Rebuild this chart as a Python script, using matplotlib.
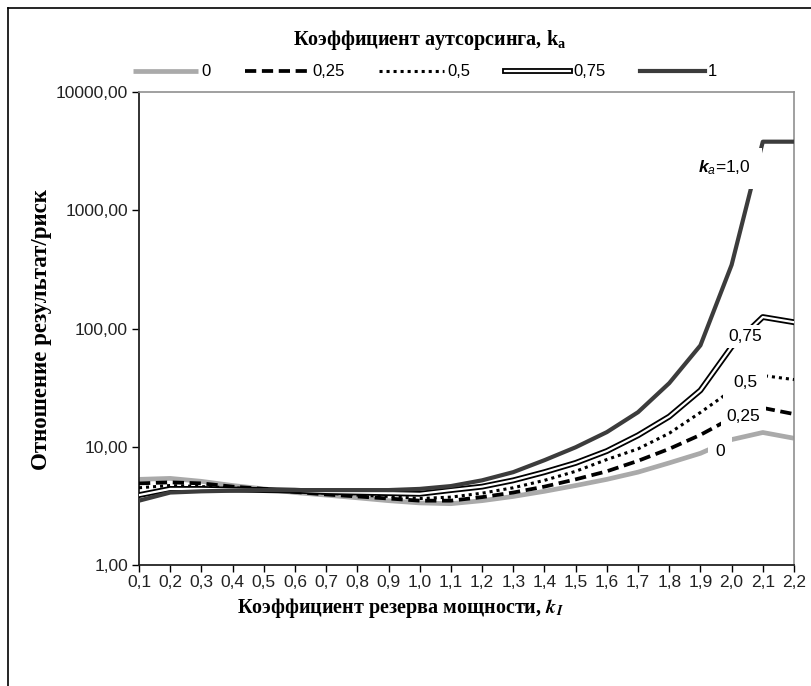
import matplotlib
matplotlib.use("Agg")
import matplotlib.pyplot as plt
from matplotlib.lines import Line2D
from matplotlib.ticker import FixedLocator, FuncFormatter, NullLocator

plt.rcParams["mathtext.fontset"] = "custom"
plt.rcParams["mathtext.rm"] = "Liberation Sans"
plt.rcParams["mathtext.it"] = "Liberation Sans:italic"
plt.rcParams["mathtext.bf"] = "Liberation Sans:bold"
plt.rcParams["mathtext.bfit"] = "Liberation Sans:bold:italic"

# ---- data ----
k_I = [0.1, 0.2, 0.3, 0.4, 0.5, 0.6, 0.7, 0.8, 0.9, 1.0, 1.1,
       1.2, 1.3, 1.4, 1.5, 1.6, 1.7, 1.8, 1.9, 2.0, 2.1, 2.2]
x_labels = ["0,1", "0,2", "0,3", "0,4", "0,5", "0,6", "0,7", "0,8", "0,9", "1,0", "1,1",
            "1,2", "1,3", "1,4", "1,5", "1,6", "1,7", "1,8", "1,9", "2,0", "2,1", "2,2"]
ka_0 = [5.3, 5.4, 5.1, 4.7, 4.4, 4.1, 3.9, 3.7, 3.5, 3.35, 3.3,
        3.5, 3.8, 4.2, 4.7, 5.3, 6.1, 7.3, 8.8, 11.5, 13.2, 11.8]
ka_025 = [4.9, 5.0, 4.9, 4.6, 4.4, 4.15, 3.95, 3.8, 3.65, 3.5, 3.5,
          3.75, 4.1, 4.6, 5.3, 6.2, 7.6, 9.6, 12.6, 17.5, 21.3, 18.9]
ka_05 = [4.5, 4.7, 4.6, 4.5, 4.35, 4.2, 4.05, 3.9, 3.8, 3.65, 3.75,
         4.05, 4.5, 5.2, 6.2, 7.8, 9.6, 13.0, 19.5, 30.0, 40.0, 37.0]
ka_075 = [3.9, 4.4, 4.4, 4.35, 4.3, 4.25, 4.15, 4.1, 4.05, 4.0, 4.3,
          4.6, 5.2, 6.1, 7.3, 9.2, 12.5, 18.0, 30.0, 70.0, 125.0, 113.0]
ka_1 = [3.5, 4.1, 4.2, 4.25, 4.3, 4.3, 4.3, 4.3, 4.3, 4.4, 4.65,
        5.2, 6.1, 7.7, 9.9, 13.3, 19.6, 34.5, 72.0, 345.0, 3800.0, 3800.0]
legend_labels = ["0", "0,25", "0,5", "0,75", "1"]
y_ticks = [1, 10, 100, 1000, 10000]

fig = plt.figure(figsize=(8.12, 6.86), dpi=100)
ax = fig.add_axes([139/812, 1-565/686, (794-139)/812, (565-92)/686])

serif = "Liberation Serif"
sans = "Liberation Sans"

l0, = ax.plot(k_I, ka_0, color="#aaaaaa", lw=3.4, solid_capstyle="butt", zorder=2)
l1, = ax.plot(k_I, ka_025, color="black", lw=2.7, linestyle=(0, (3, 1.5)), zorder=3)
l2, = ax.plot(k_I, ka_05, color="black", lw=2.2, linestyle=(0, (1, 1.3)), zorder=4)
l3a, = ax.plot(k_I, ka_075, color="black", lw=4.2, zorder=5)
l3b, = ax.plot(k_I, ka_075, color="white", lw=1.6, zorder=6)
l4, = ax.plot(k_I, ka_1, color="#3c3c3c", lw=3.0, zorder=7)

ax.set_yscale("log")
ax.set_ylim(1, 10000)
ax.set_xlim(0.1, 2.2)
ax.yaxis.set_major_locator(FixedLocator(y_ticks))
ax.yaxis.set_minor_locator(NullLocator())
ax.yaxis.set_major_formatter(FuncFormatter(lambda v, p: f"{v:.2f}".replace(".", ",")))
ax.set_xticks(k_I)
ax.set_xticklabels(x_labels)
ax.tick_params(axis="both", direction="out", length=5, width=1, labelsize=12.5,
               colors="black")
ax.tick_params(axis="x", pad=2)
ax.tick_params(axis="y", pad=3)
for lab in ax.get_xticklabels() + ax.get_yticklabels():
    lab.set_fontfamily(sans)
    lab.set_color("#222222")

for s in ["top", "right"]:
    ax.spines[s].set_color("#909090")
    ax.spines[s].set_linewidth(1.2)
for s in ["left", "bottom"]:
    ax.spines[s].set_color("#222222")
    ax.spines[s].set_linewidth(1.3)

# data labels
ax.text(1.978, 2270, r"$\mathbfit{k}_{\mathit{a}}$=1,0", fontsize=12.5, family=sans,
        ha="center", va="center", bbox=dict(facecolor="white", edgecolor="none", pad=8), zorder=10)
ax.text(2.043, 86, "0,75", fontsize=12.5, family=sans, ha="center", va="center",
        bbox=dict(facecolor="white", edgecolor="none", pad=3), zorder=10)
ax.text(2.043, 35.0, "0,5", fontsize=12.5, family=sans, ha="center", va="center",
        bbox=dict(facecolor="white", edgecolor="none", pad=7), zorder=10)
ax.text(2.037, 18.0, "0,25", fontsize=12.5, family=sans, ha="center", va="center",
        bbox=dict(facecolor="white", edgecolor="none", pad=4), zorder=10)
ax.text(1.962, 9.2, "0", fontsize=12.5, family=sans, ha="center", va="center",
        bbox=dict(facecolor="white", edgecolor="none", pad=5), zorder=10)

# titles
fig.text(430/812, 1-40/686, r"Коэффициент аутсорсинга, k$_\mathregular{a}$", fontsize=14.5,
         fontweight="bold", family=serif, ha="center", va="center")
fig.text(42/812, 1-330/686, "Отношение результат/риск", fontsize=16.5, fontweight="bold",
         family=serif, rotation=90, ha="center", va="center")
fig.text(400/812, 1-608/686, r"Коэффициент резерва мощности, $\mathbfit{k}_{\mathbfit{I}}$",
         fontsize=14.5, fontweight="bold", family=serif, ha="center", va="center",
         math_fontfamily="stix")

handles = [l0, l1, l2, (l3a, l3b), l4]
leg = fig.legend(handles, legend_labels, loc="center", bbox_to_anchor=(425/812, 1-72/686),
                 ncol=5, frameon=False, handlelength=3.9, columnspacing=2.05, handletextpad=0.2,
                 prop={"family": sans, "size": 12})

# outer frame
fig.add_artist(Line2D([8/812, 8/812], [0, 1-8/686], transform=fig.transFigure, color="black", lw=1.2))
fig.add_artist(Line2D([8/812, 1], [1-8/686, 1-8/686], transform=fig.transFigure, color="black", lw=1.2))

fig.savefig("out.png", dpi=100)
